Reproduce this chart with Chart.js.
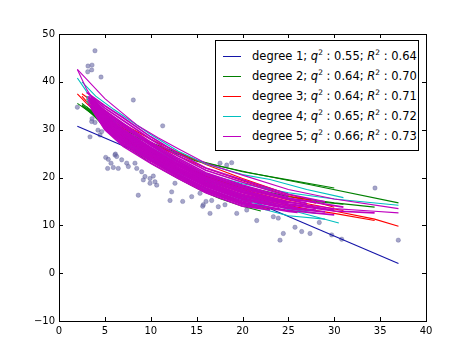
<!DOCTYPE html>
<html>
<head>
<meta charset="utf-8">
<script src="https://cdn.jsdelivr.net/npm/chart.js@4.4.0/dist/chart.umd.min.js"></script>
<style>
  html, body { margin: 0; padding: 0; background: #fff; }
  #wrap { position: relative; width: 474px; height: 357px; }
  canvas { display: block; }
  #legend { position: absolute; left: 215px; top: 40px; width: 202px; height: 109px;
    border: 1px solid #000; background: #fff; font-family: "DejaVu Sans", sans-serif; font-size: 11.5px; color: #000; }
  .row { position: absolute; left: 0; height: 20px; line-height: 20px; white-space: nowrap; }
  .sw { position: absolute; left: 7px; top: 10px; width: 18px; height: 0; border-top: 1px solid; }
  .tx { position: absolute; left: 36px; top: 0; }
  .tx i { font-style: italic; }
  .tx sup { font-size: 7.5px; vertical-align: 0; position: relative; top: -5px; }
</style>
</head>
<body>
<div id="wrap">
  <canvas id="c" width="474" height="357"></canvas>
  <div id="legend"></div>
</div>
<script>
// ---- data ----
const scatterX = [3.92,3.16,3.6,3.56,3.13,4.58,8.1,11.3,2.0,3.38,3.56,4.25,4.47,3.6,3.92,4.65,
  5.09,5.37,6.1,6.15,6.29,5.67,5.3,5.92,6.46,6.83,7.38,7.56,8.28,8.47,9.01,9.37,9.92,10.28,9.92,10.65,10.46,9.19,
  8.64,12.64,12.28,13.48,14.46,15.37,15.73,12.1,16.64,17.55,18.28,17.36,18.09,19.37,20.46,21.55,23.36,23.9,
  24.45,24.09,25.72,26.45,27.36,28.37,34.44,36.98,29.72,30.81,18.82,16.02,15.66,16.46];
const scatterY = [46.5,43.3,43.5,42.5,42.1,41.0,36.2,30.8,34.7,28.5,31.7,29.9,28.9,32.3,31.5,29.6,
  24.2,23.8,24.7,24.9,24.4,23.0,21.9,22.1,21.9,23.7,23.0,22.3,23.0,21.9,21.2,20.2,19.8,20.3,18.8,18.4,19.1,19.5,
  16.3,18.8,17.0,15.0,16.0,16.7,14.3,15.2,15.2,23.0,22.6,13.9,14.3,12.5,13.2,11.0,11.8,11.5,
  8.3,6.9,9.6,8.7,8.3,10.6,17.8,6.9,8.0,7.1,23.1,15.0,14.0,12.5];

const legendLabels = [
  ["degree 1", "0.55", "0.64"],
  ["degree 2", "0.64", "0.70"],
  ["degree 3", "0.64", "0.71"],
  ["degree 4", "0.65", "0.72"],
  ["degree 5", "0.66", "0.73"]
];
const xTicks = [0,5,10,15,20,25,30,35,40];
const yTicks = [-10,0,10,20,30,40,50];

const deg1Lines = [
  [[2,30.7],[37,2.0]]
];
const deg2Lines = [
  [[2,35.5],[5,31.5],[10,27],[15,23.4],[20.8,21],[27.4,18.5],[37,14.7]],
  [[2.5,35],[5,31],[8,27],[10,25],[13,22.5],[16,20.2],[20,17.8],[25,15.5],[31,14.4]],
  [[3,34.5],[5,30.5],[7,27],[10,23],[13,19.8],[15.5,17.3],[17.5,15.6],[20,14],[22,13]],
  [[3,34.8],[5,31],[7,27.7],[10,23.8],[13,20.5],[16,17.8],[20,14.8],[23,13.4]],
  [[2.5,35.2],[5,31.3],[8,27.3],[10,25.3],[13,22.7],[16,20.4],[20,18.2],[25,16],[30,14.7],[34.4,13.8]],
  [[2.5,35.5],[5,31.8],[10,27.3],[15,23.6],[20,21.2],[25,19.5],[30,17.8]]
];
const deg3Lines = [
  [[2,37.5],[3,35.5],[5,32],[7,29],[10,25.5],[13,22.5],[16,20],[20,17.5],[25,15],[30,13],[34.4,11.3],[37,9.8]],
  [[2.5,37],[5,31.5],[7,28],[10,24.5],[13,21.5],[16,18.8],[20,16.3],[25,14],[30,12.5],[34.4,11.0]],
  [[3,37],[5,33.2],[7,30.3],[10,27.3],[13,24.5],[16,22],[20,19.3],[25,16.2],[28,14.6]],
  [[3.5,35],[5,31],[7,27.5],[10,23.5],[13,20.2],[16,17.3],[20,14.5],[23,13.2]],
  [[3,36.5],[5,32.5],[7,29.3],[10,25.8],[13,22.8],[16,20.3],[20,17.8],[25,15.3],[30,13.4],[31,13.1]],
  [[2.5,37.5],[5,34],[7,31.2],[10,28],[13,25.3],[16,22.7],[20,19.8],[25,16.5],[30,13.8]],
  [[3,36],[5,31.8],[7,28.5],[10,25],[13,22],[16,19.3],[20,16.8],[25,14.2],[27,13.4]]
];
const deg4Lines = [
  [[2,40.8],[3,38],[5,33.5],[7,30],[10,26.3],[13,23.2],[16,20.8],[20,18.7],[25,16.8],[30,15.5],[37,14.2]],
  [[2.5,40],[4,37],[6,34.2],[8,31.6],[10,29],[13,25.5],[16,22.8],[20,20.6],[23,19.6],[27,17.5],[31,15.8]],
  [[3,37],[5,32.5],[7,29],[10,25],[13,21.7],[16,19],[20,16.3],[25,13.5],[28,12.5]],
  [[3.5,35.5],[5,31.5],[7,28],[10,24.3],[13,21],[16,18.2],[20,15.3],[24,13.3]],
  [[3,36.5],[5,32.5],[7,29],[10,25.2],[13,22],[16,19.2],[20,16.3],[25,13.3],[30.5,10.5]],
  [[3,36],[5,31],[7,27.5],[10,24],[13,21],[16,18.5],[20,16],[22,15]],
  [[4,34],[6,29.5],[8,26.5],[10,24],[13,20.5],[16,17.5],[20,14.5],[25,12],[29,11.3]]
];
const deg5Lines = [
  [[3.5,34.5],[5,30],[7,26.5],[10,23],[13,19.8],[16,16.8],[20,14],[23,13.2]],
  [[3.5,34.8],[5,30.5],[7,27.1],[10,23.6],[13,20.3],[16,17.3],[20,14.6],[25,12.9],[26,12.7]],
  [[3.5,35.0],[5,31],[7,27.7],[10,24.1],[13,20.8],[16,17.8],[20,15.1],[21,14.7]],
  [[3.5,35.3],[5,31.5],[7,28.3],[10,24.7],[13,21.4],[16,18.4],[20,15.7],[25,13.7],[28,13.2]],
  [[3.5,35.6],[5,32],[7,28.9],[10,25.2],[13,21.9],[16,18.9],[20,16.2],[24,14.8]],
  [[3.5,35.9],[5,32.5],[7,29.5],[10,25.8],[13,22.4],[16,19.4],[20,16.8],[25,14.5],[30,13.2]],
  [[3.5,36.1],[5,33],[7,30.1],[10,26.3],[13,22.9],[16,19.9],[20,17.3],[25,14.9],[27,14.3]],
  [[3.5,36.4],[5,33.5],[7,30.7],[10,26.9],[13,23.4],[16,20.4],[20,17.9],[22,16.9]],
  [[3.5,36.7],[5,34],[7,31.3],[10,27.4],[13,24],[16,21],[20,18.4],[25,15.7],[31,13.8]],
  [[3.5,36.9],[5,34.5],[7,31.9],[10,28],[13,24.5],[16,21.5],[20,19],[25,16.1]],
  [[3,37.8],[5,35],[7,32.5],[10,28.5],[13,25],[16,22],[20,19.5],[25,16.5],[29,14.9]],
  [[3.5,34.9],[5,30.8],[7,27.4],[10,23.8],[13,20.6],[16,17.6],[20,14.8],[25,13.1],[30,12.2]],
  [[3.5,35.4],[5,31.8],[7,28.6],[10,24.9],[13,21.6],[16,18.6],[20,15.9]],
  [[3.5,36.0],[5,32.8],[7,29.8],[10,26],[13,22.7],[16,19.7],[20,17],[25,14.7]],
  [[3.5,36.5],[5,33.8],[7,31],[10,27.1],[13,23.7],[16,20.7],[20,18.1],[25,15.5],[28,14.9]],
  [[3.5,35.7],[5,32.3],[7,29.2],[10,25.5],[13,22.1],[16,19.1],[20,16.5],[25,14.3],[30,13.0],[34.4,12.6]],
  [[3.2,36.2],[5,31.2],[7,27.8],[10,24.3],[13,21.1],[16,18.1],[20,15.4],[24,13.8]],
  [[3.2,36.6],[5,32.2],[7,28.8],[10,25],[13,21.7],[16,18.7],[20,16],[26,13.6]],
  [[3.2,37],[5,33.2],[7,30],[10,26.1],[13,22.6],[16,19.6],[20,17],[23,15.8]],
  [[3.8,35.2],[5,32.7],[7,29.6],[10,25.6],[13,22],[16,19],[19,16.8]],
  [[3.8,35.8],[5,33.4],[7,30.6],[10,26.7],[13,23.2],[16,20.1],[20,17.6],[27,14.6]],
  [[3.2,35.5],[5,30.2],[7,26.9],[10,23.4],[13,20.1],[16,17.1],[20,14.3],[22,13.6]],
  [[3.8,34.2],[5,31.2],[7,28],[10,24.4],[13,21.2],[16,18.2],[20,15.5],[25,13.5],[29,12.8]],
  [[2,42.6],[3,38.5],[4,35.5],[5,33],[7,29.5],[10,25.8],[13,22.4],[16,19.5],[20,17],[25,14.8],[30,13.5],[34,13],[37,12.6]],
  [[2,42.6],[5,36.5],[8.6,30.8],[10.8,28.3],[13,26],[16,23],[20,20.5],[25,17.5],[30,15.5],[37,13.5]]
];

const colors = ["#1414a8", "#008000", "#ff0000", "#00bfbf", "#bf00bf"];
const allLines = [deg1Lines, deg2Lines, deg3Lines, deg4Lines, deg5Lines];

// ---- build datasets ----
const datasets = [];
datasets.push({
  type: 'scatter',
  data: scatterX.map((x, i) => ({x: x, y: scatterY[i]})),
  backgroundColor: 'rgba(110,110,168,0.62)',
  borderColor: 'rgba(85,85,145,0.6)',
  borderWidth: 0.5,
  pointRadius: 2.2,
  order: 10
});
allLines.forEach((group, d) => {
  group.forEach((line, k) => {
    const outlier = (d === 4 && k >= group.length - 2);
    datasets.push({
      type: 'scatter',
      showLine: true,
      data: line.map(p => ({x: p[0], y: p[1]})),
      borderColor: colors[d],
      borderWidth: (d === 4 && !outlier) ? 1.7 : 1.1,
      pointRadius: 0,
      tension: 0,
      fill: false,
      order: 9 - d
    });
  });
});

// ---- frame + inside ticks (classic style) ----
const framePlugin = {
  id: 'frame',
  afterDatasetsDraw(chart) {
    const {ctx, chartArea: a, scales: {x, y}} = chart;
    ctx.save();
    ctx.strokeStyle = '#000';
    ctx.lineWidth = 1;
    ctx.strokeRect(Math.round(a.left) + 0.5, Math.round(a.top) + 0.5,
      Math.round(a.right - a.left), Math.round(a.bottom - a.top));
    ctx.beginPath();
    xTicks.forEach(v => {
      const px = Math.round(x.getPixelForValue(v)) + 0.5;
      ctx.moveTo(px, a.bottom); ctx.lineTo(px, a.bottom - 4);
      ctx.moveTo(px, a.top); ctx.lineTo(px, a.top + 4);
    });
    yTicks.forEach(v => {
      const py = Math.round(y.getPixelForValue(v)) + 0.5;
      ctx.moveTo(a.left, py); ctx.lineTo(a.left + 4, py);
      ctx.moveTo(a.right, py); ctx.lineTo(a.right - 4, py);
    });
    ctx.stroke();
    ctx.restore();
  }
};

const tickFont = {family: "'DejaVu Sans', sans-serif", size: 10};
new Chart(document.getElementById('c'), {
  type: 'scatter',
  data: {datasets},
  options: {
    responsive: false,
    animation: false,
    events: [],
    layout: {padding: {left: 0, right: 48, top: 34, bottom: 0}},
    plugins: {legend: {display: false}, tooltip: {enabled: false}},
    scales: {
      x: {
        type: 'linear', min: 0, max: 40,
        afterFit: s => { s.height = 36; },
        afterBuildTicks: s => { s.ticks = xTicks.map(v => ({value: v})); },
        grid: {display: false, drawTicks: false},
        border: {display: false},
        ticks: {font: tickFont, color: '#000', padding: 4, maxRotation: 0,
          callback: v => String(v).replace('-', '\u2212')}
      },
      y: {
        type: 'linear', min: -10, max: 50,
        afterFit: s => { s.width = 59; },
        afterBuildTicks: s => { s.ticks = yTicks.map(v => ({value: v})); },
        grid: {display: false, drawTicks: false},
        border: {display: false},
        ticks: {font: tickFont, color: '#000', padding: 4,
          callback: v => String(v).replace('-', '\u2212')}
      }
    }
  },
  plugins: [framePlugin]
});

// ---- legend (text) ----
const lg = document.getElementById('legend');
legendLabels.forEach((l, i) => {
  const row = document.createElement('div');
  row.className = 'row';
  row.style.top = (5 + i * 20) + 'px';
  row.innerHTML = '<span class="sw" style="border-color:' + colors[i] + '"></span>' +
    '<span class="tx">' + l[0] + '; <i>q</i><sup>2</sup> : ' + l[1] + '; <i>R</i><sup>2</sup> : ' + l[2] + '</span>';
  lg.appendChild(row);
});
</script>
</body>
</html>
